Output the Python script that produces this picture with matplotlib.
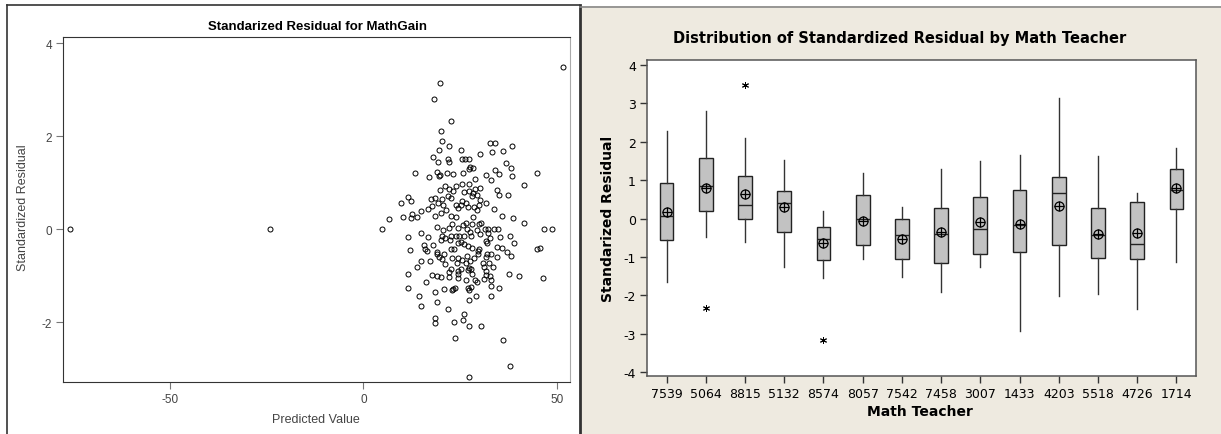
#! /usr/bin/env python3

# Standardized residuals for MathGain: scatter vs predicted value and boxplots by teacher.

import matplotlib.pyplot as plt
import matplotlib.patches as patches
import matplotlib.lines as mlines
import numpy as np

plt.rcParams['axes.unicode_minus'] = False

# scatter panel values
pred_value = [51.6, 19.8, 18.3, 22.5, 20.0, 20.2, 22.1, 25.2, 19.5, 32.6,
              33.9, 38.5, 33.2, 36.0, 30.2, 17.9, 19.3, 21.8, 22.1, 25.5,
              27.4, 26.2, 36.9, 38.2, 34.0, 27.5, 28.4, 27.4, 25.8, 31.6,
              35.1, 32.9, 28.8, 38.3, 44.8, 13.4, 19.0, 19.9, 19.4, 16.9,
              21.5, 23.1, 41.5, 21.2, 24.0, 27.4, 25.5, 19.8, 22.1, 23.1,
              26.0, 28.8, 30.0, 34.5, 35.0, 37.3, 11.5, 12.3, 9.6, 17.4,
              18.6, 20.3, 21.9, 22.7, 27.3, 28.4, 29.3, 28.1, 30.2, 25.4,
              26.6, 25.1, 31.7, 19.3, 20.5, 24.0, 24.5, 27.1, 28.6, 29.8,
              29.3, 33.8, 15.0, 16.6, 17.6, 12.6, 13.8, 12.4, 10.1, 6.6,
              18.5, 20.0, 21.4, 22.7, 24.0, 35.8, 38.7, 28.4,
              -76.0, -24.1, 4.7, 41.4, 46.6, 48.7, 31.3, 32.3, 33.7, 34.9,
              19.1, 20.6, 22.1, 24.4, 26.8, 28.0, 30.3, 29.3, 29.9, 27.6,
              25.8, 26.6, 23.0, 11.5, 15.0, 16.7, 20.2, 22.5, 23.8, 21.2,
              20.1, 22.3, 24.6, 25.9, 25.2, 27.8, 30.2, 32.1, 32.8, 35.4,
              37.9, 38.8, 32.0, 31.6, 24.5, 26.1, 27.1, 28.1, 15.6, 15.9,
              16.3, 17.9, 12.0, 22.6, 23.5, 20.8, 19.0, 29.9, 29.7, 29.5,
              32.0, 33.0, 34.6, 35.8, 37.2, 38.2, 44.8, 45.6, 19.1, 19.4,
              20.4, 15.0, 17.1, 23.0, 24.4, 25.4, 26.4, 24.1, 27.6, 28.5,
              26.7, 31.8, 34.6, 30.9, 21.0, 31.2, 32.5, 33.5, 27.2, 27.8,
              27.0, 28.1, 25.2, 13.8, 22.6, 22.2, 24.5, 24.5, 31.7, 31.7,
              11.4, 17.7, 19.1, 20.0, 22.1, 32.6, 33.1, 37.5, 40.3, 46.4,
              24.5, 28.8, 26.4, 16.2, 29.3, 31.2, 23.6, 23.2, 22.8, 27.0,
              27.9, 27.3, 11.5, 20.9, 33.1, 35.0, 18.4, 29.0, 33.0, 14.4,
              27.2, 18.9, 15.0, 21.9, 25.9, 18.5, 18.5, 23.5, 25.7, 27.3,
              30.4, 23.6, 36.2, 38.0, 27.4]
std_resid = [3.49, 3.14, 2.80, 2.32, 2.11, 1.89, 1.79, 1.71, 1.69, 1.86,
             1.86, 1.79, 1.66, 1.68, 1.61, 1.55, 1.44, 1.50, 1.44, 1.50,
             1.51, 1.51, 1.41, 1.32, 1.28, 1.34, 1.31, 1.29, 1.20, 1.17,
             1.19, 1.06, 1.07, 1.14, 1.21, 1.21, 1.23, 1.16, 1.13, 1.12,
             1.21, 1.19, 0.94, 0.92, 0.93, 0.96, 0.96, 0.84, 0.86, 0.81,
             0.80, 0.86, 0.88, 0.84, 0.73, 0.73, 0.68, 0.61, 0.55, 0.65,
             0.66, 0.65, 0.70, 0.66, 0.81, 0.77, 0.74, 0.70, 0.63, 0.61,
             0.55, 0.52, 0.55, 0.55, 0.52, 0.51, 0.46, 0.48, 0.47, 0.51,
             0.41, 0.44, 0.38, 0.44, 0.49, 0.33, 0.26, 0.24, 0.26, 0.22,
             0.29, 0.34, 0.42, 0.29, 0.25, 0.28, 0.24, 0.25,
             0.0, 0.0, 0.0, 0.14, 0.0, 0.0, 0.0, 0.0, 0.0, 0.0,
             0.04, -0.02, 0.02, 0.02, 0.01, 0.11, 0.13, -0.02, 0.11, -0.07,
             0.09, 0.13, 0.10, -0.17, -0.09, -0.17, -0.14, -0.14, -0.14, -0.20,
             -0.24, -0.24, -0.14, -0.14, -0.27, -0.16, -0.11, -0.09, -0.20, -0.18,
             -0.14, -0.30, -0.29, -0.26, -0.31, -0.32, -0.37, -0.41, -0.35, -0.43,
             -0.47, -0.35, -0.45, -0.42, -0.42, -0.53, -0.49, -0.43, -0.47, -0.53,
             -0.53, -0.53, -0.39, -0.41, -0.50, -0.58, -0.42, -0.40, -0.54, -0.61,
             -0.65, -0.68, -0.68, -0.63, -0.63, -0.67, -0.72, -0.73, -0.68, -0.63,
             -0.59, -0.61, -0.61, -0.72, -0.76, -0.81, -0.74, -0.81, -0.83, -0.86,
             -0.88, -0.96, -0.86, -0.81, -0.86, -0.92, -0.90, -0.96, -0.90, -0.98,
             -0.96, -0.98, -1.02, -1.03, -1.04, -1.01, -1.09, -0.96, -1.00, -1.05,
             -1.05, -1.10, -1.09, -1.15, -1.14, -1.08, -1.26, -1.29, -1.31, -1.26,
             -1.25, -1.31, -1.27, -1.29, -1.22, -1.26, -1.35, -1.43, -1.43, -1.45,
             -1.53, -1.57, -1.66, -1.73, -1.82, -1.91, -2.03, -1.99, -1.95, -2.08,
             -2.08, -2.34, -2.39, -2.95, -3.18]

# boxplot panel values
teachers = ['7539', '5064', '8815', '5132', '8574', '8057', '7542',
            '7458', '3007', '1433', '4203', '5518', '4726', '1714']
whisk_low = [-1.65, -0.47, -0.62, -1.27, -1.55, -1.04, -1.53,
             -1.90, -1.27, -2.92, -2.02, -1.97, -2.36, -1.12]
box_q1 = [-0.55, 0.19, -0.01, -0.34, -1.09, -0.69, -1.04,
          -1.16, -0.91, -0.88, -0.69, -1.02, -1.04, 0.25]
box_median = [0.06, 0.86, 0.36, 0.41, -0.52, -0.01, -0.42,
              -0.40, -0.26, -0.17, 0.66, -0.43, -0.66, 0.75]
box_q3 = [0.92, 1.58, 1.12, 0.72, -0.23, 0.61, -0.01,
          0.28, 0.57, 0.75, 1.07, 0.28, 0.43, 1.28]
whisk_high = [2.29, 2.79, 2.10, 1.52, 0.21, 1.18, 0.30,
              1.28, 1.49, 1.65, 3.13, 1.64, 0.66, 1.84]
box_mean = [0.18, 0.80, 0.65, 0.30, -0.64, -0.06, -0.52,
            -0.36, -0.10, -0.15, 0.33, -0.40, -0.38, 0.79]
outliers = [[], [-2.34], [3.47], [], [-3.17], [], [],
            [], [], [], [], [], [], []]

W, H = 1221, 435


def fx(px):
    return px / W


def fy(py):
    return 1 - py / H


def scatter_panel(fig):
    ax = fig.add_axes([fx(63), fy(383), (570 - 63) / W, (383 - 38) / H])
    ax.plot(pred_value, std_resid, 'o', mfc='none', mec='black', ms=3.6, mew=0.7)
    ax.set_xlim(-77.7, 53.4)
    ax.set_ylim(-3.29, 4.13)
    ax.set_xticks([-50, 0, 50])
    ax.set_yticks([-2, 0, 2, 4])
    ax.tick_params(direction='out', length=5, width=0.8, color='#777777',
                   labelcolor='#444444', labelsize=8.5, pad=3)
    for lab in ax.get_xticklabels() + ax.get_yticklabels():
        lab.set_family('Liberation Sans')
    for side in ['left', 'bottom', 'top']:
        ax.spines[side].set_color('#333333')
    ax.spines['right'].set_color('#aaaaaa')

    fig.text(fx(317), fy(27.5), 'Standarized Residual for MathGain',
             ha='center', va='center', fontsize=9.5, fontweight='bold',
             family='Liberation Sans')
    fig.text(fx(316), fy(420), 'Predicted Value', ha='center', va='center',
             fontsize=9, color='#444444', family='Liberation Sans')
    fig.text(fx(23), fy(208), 'Standardized Residual', ha='center', va='center',
             rotation=90, fontsize=9, color='#444444', family='Liberation Sans')


def box_panel(fig):
    fig.add_artist(patches.Rectangle((fx(580), 0), 1 - fx(580), fy(7),
                                     transform=fig.transFigure,
                                     facecolor='#EEEAE0', edgecolor='none', zorder=-1))
    ax = fig.add_axes([fx(647), fy(377), (1196 - 647) / W, (377 - 61) / H])
    ax.set_facecolor('white')

    stats = []
    for i, name in enumerate(teachers):
        stats.append({'label': name, 'whislo': whisk_low[i], 'q1': box_q1[i],
                      'med': box_median[i], 'q3': box_q3[i], 'whishi': whisk_high[i],
                      'fliers': np.array(outliers[i])})
    pos = np.arange(len(teachers))
    # asterisk outliers: 6-armed star drawn with lines only
    ax.bxp(stats, positions=pos, widths=0.35, patch_artist=True, showcaps=False,
           boxprops={'facecolor': '#c2c2c2', 'edgecolor': '#222222', 'linewidth': 1.0},
           medianprops={'color': '#222222', 'linewidth': 1.0},
           whiskerprops={'color': '#333333', 'linewidth': 1.0},
           flierprops={'marker': (6, 2, 0), 'markersize': 5, 'markerfacecolor': 'black',
                       'markeredgecolor': 'black', 'markeredgewidth': 0.7})
    ax.plot(pos, box_mean, 'o', mfc='none', mec='black', ms=6.5, mew=0.9, zorder=4)
    ax.plot(pos, box_mean, '+', color='black', ms=6.5, mew=0.9, zorder=4)

    ax.set_xlim(-0.5, 13.5)
    ax.set_ylim(-4.10, 4.13)
    ax.set_yticks(range(-4, 5))
    ax.set_xticks(pos)
    ax.set_xticklabels(teachers)
    ax.tick_params(direction='out', length=5, width=1.0, color='#333333',
                   labelsize=9, pad=3)
    for side in ax.spines:
        ax.spines[side].set_color('#555555')
        ax.spines[side].set_linewidth(1.1)

    fig.text(fx(900), fy(38), 'Distribution of Standardized Residual by Math Teacher',
             ha='center', va='center', fontsize=10.5, fontweight='bold')
    fig.text(fx(920), fy(412), 'Math Teacher', ha='center', va='center',
             fontsize=10, fontweight='bold')
    fig.text(fx(607.5), fy(219), 'Standarized Residual', ha='center', va='center',
             rotation=90, fontsize=10, fontweight='bold')


def frames(fig):
    # outer frame of the left panel and the border of the right one
    dark = '#333333'
    fig.add_artist(mlines.Line2D([fx(7.5), fx(7.5)], [0, fy(6)], color=dark, lw=1.2))
    fig.add_artist(mlines.Line2D([fx(7.5), fx(579)], [fy(6), fy(6)], color=dark, lw=1.2))
    fig.add_artist(mlines.Line2D([fx(579.5), fx(579.5)], [0, fy(6)], color=dark, lw=2.0))
    fig.add_artist(mlines.Line2D([fx(580), 1], [fy(7.5), fy(7.5)], color='#888888', lw=1.2))


def main():
    fig = plt.figure(figsize=(W / 100, H / 100), dpi=100)
    scatter_panel(fig)
    box_panel(fig)
    frames(fig)
    fig.savefig('out.png', dpi=100)


if __name__ == "__main__":
    main()
